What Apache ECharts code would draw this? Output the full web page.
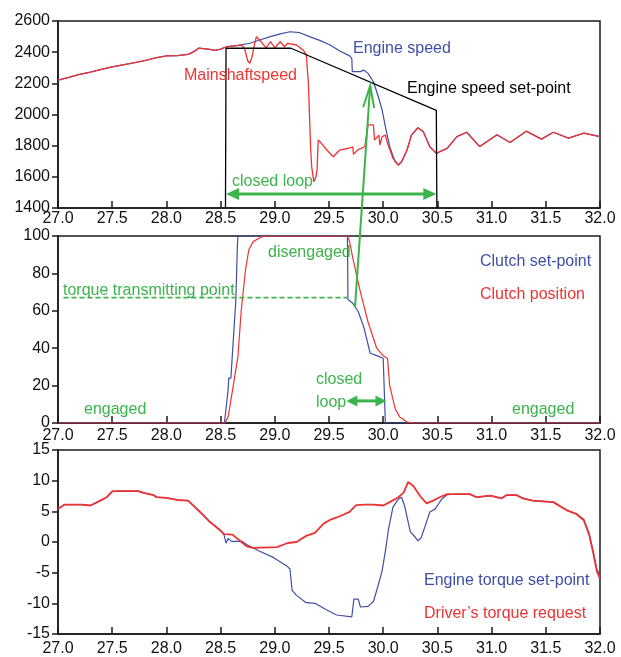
<!DOCTYPE html>
<html>
<head>
<meta charset="utf-8">
<script src="https://cdn.jsdelivr.net/npm/echarts@6/dist/echarts.min.js"></script>
<style>
html,body{margin:0;padding:0;background:#fff;}
#chart{width:621px;height:657px;}
</style>
</head>
<body>
<div id="chart"></div>
<script>
// ---------- data ----------
const xTicks = [27.0, 27.5, 28.0, 28.5, 29.0, 29.5, 30.0, 30.5, 31.0, 31.5, 32.0];
const speedTicks = [1400, 1600, 1800, 2000, 2200, 2400, 2600];
const clutchTicks = [0, 20, 40, 60, 80, 100];
const torqueTicks = [-15, -10, -5, 0, 5, 10, 15];

const engineSpeed = [[27.0,2220],[27.1,2238],[27.2,2258],[27.3,2272],[27.4,2290],[27.5,2306],[27.6,2318],[27.7,2332],[27.8,2346],[27.9,2364],[28.0,2376],[28.1,2378],[28.2,2386],[28.25,2402],[28.3,2426],[28.4,2418],[28.45,2412],[28.5,2420],[28.56,2436],[28.65,2442],[28.77,2457],[28.86,2478],[28.96,2500],[29.05,2517],[29.14,2531],[29.23,2525],[29.32,2500],[29.42,2474],[29.51,2446],[29.60,2408],[29.69,2376],[29.71,2362],[29.715,2275],[29.79,2275],[29.82,2285],[29.86,2264],[29.91,2210],[29.95,2125],[29.99,2029],[30.02,1922],[30.06,1793],[30.11,1697],[30.14,1676],[30.17,1697],[30.22,1772],[30.26,1868],[30.32,1915],[30.37,1890],[30.43,1793],[30.49,1751],[30.59,1783],[30.68,1858],[30.77,1886],[30.89,1794],[31.05,1870],[31.17,1820],[31.32,1893],[31.46,1842],[31.57,1886],[31.71,1848],[31.85,1880],[32.0,1858]];

const mainshaftSpeed = [[27.0,2220],[27.1,2238],[27.2,2258],[27.3,2272],[27.4,2290],[27.5,2306],[27.6,2318],[27.7,2332],[27.8,2346],[27.9,2364],[28.0,2376],[28.1,2378],[28.2,2386],[28.25,2402],[28.3,2426],[28.4,2418],[28.45,2412],[28.5,2420],[28.56,2436],[28.65,2442],[28.69,2446],[28.72,2425],[28.75,2345],[28.77,2329],[28.79,2370],[28.81,2440],[28.83,2500],[28.86,2478],[28.92,2427],[28.96,2467],[29.0,2428],[29.05,2467],[29.09,2435],[29.12,2457],[29.20,2446],[29.26,2414],[29.29,2385],[29.31,2202],[29.33,1793],[29.34,1665],[29.36,1569],[29.38,1600],[29.39,1644],[29.40,1836],[29.43,1815],[29.48,1772],[29.54,1729],[29.57,1751],[29.60,1772],[29.69,1785],[29.72,1793],[29.725,1745],[29.77,1775],[29.83,1793],[29.86,1933],[29.91,1933],[29.92,1836],[29.96,1868],[29.97,1804],[29.99,1858],[30.02,1868],[30.04,1815],[30.09,1719],[30.14,1676],[30.17,1697],[30.22,1772],[30.26,1868],[30.32,1915],[30.37,1890],[30.43,1793],[30.49,1751],[30.59,1783],[30.68,1858],[30.77,1886],[30.89,1794],[31.05,1870],[31.17,1820],[31.32,1893],[31.46,1842],[31.57,1886],[31.71,1848],[31.85,1880],[32.0,1858]];

const speedSetPoint = [[28.545,1400],[28.55,2425],[29.15,2425],[30.49,2027],[30.495,1400]];

const clutchSetPoint = [[27.0,0],[28.535,0],[28.57,18],[28.575,24],[28.595,24],[28.62,47],[28.64,65],[28.655,95],[28.66,100],[29.67,100],[29.675,66],[29.72,64],[29.77,59.5],[29.82,51.5],[29.88,37.3],[29.94,36],[30.0,34.6],[30.015,34],[30.02,0],[32.0,0]];

const clutchPosition = [[27.0,0],[28.54,0],[28.57,3.4],[28.61,17.6],[28.66,35.5],[28.69,60],[28.73,82],[28.76,92.5],[28.80,97],[28.88,99.6],[28.95,100],[29.67,100],[29.69,97],[29.72,88],[29.79,70],[29.86,54],[29.94,40],[30.0,36],[30.04,34.5],[30.06,20],[30.11,7.8],[30.15,3.4],[30.22,0.5],[30.3,0],[32.0,0]];

const engineTorque = [[27.0,5.4],[27.06,6.1],[27.22,6.1],[27.30,5.95],[27.39,6.75],[27.45,7.3],[27.50,8.25],[27.55,8.3],[27.74,8.3],[27.79,8.0],[27.88,7.66],[27.91,7.3],[28.0,7.2],[28.10,6.85],[28.20,6.75],[28.31,4.9],[28.40,3.3],[28.49,2.0],[28.53,1.3],[28.55,-0.2],[28.57,0.6],[28.6,0.1],[28.7,0.1],[28.74,-0.4],[28.86,-1.5],[28.99,-2.55],[29.11,-3.9],[29.14,-4.4],[29.16,-7.9],[29.2,-8.7],[29.29,-9.9],[29.37,-10.0],[29.48,-11.1],[29.57,-11.9],[29.71,-12.2],[29.72,-12.2],[29.73,-9.3],[29.77,-9.3],[29.79,-10.6],[29.86,-10.5],[29.91,-9.7],[29.95,-7.3],[29.99,-4.7],[30.02,-1.5],[30.05,2.2],[30.09,5.7],[30.14,7.0],[30.17,7.3],[30.20,5.7],[30.25,1.7],[30.29,0.9],[30.32,0.2],[30.35,0.7],[30.39,2.75],[30.43,4.9],[30.48,5.4],[30.51,6.2],[30.54,7.0],[30.59,7.7],[30.68,7.8],[30.80,7.8],[30.86,7.3],[30.99,7.55],[31.09,7.1],[31.14,7.65],[31.23,7.65],[31.29,7.1],[31.38,6.75],[31.57,6.5],[31.69,5.2],[31.78,4.6],[31.85,3.7],[31.90,1.4],[31.94,-1.8],[31.97,-4.4],[32.0,-5.5]];

const driverTorque = [[27.0,5.4],[27.06,6.1],[27.22,6.1],[27.30,5.95],[27.39,6.75],[27.45,7.3],[27.50,8.25],[27.55,8.3],[27.74,8.3],[27.79,8.0],[27.88,7.66],[27.91,7.3],[28.0,7.2],[28.10,6.85],[28.20,6.75],[28.31,4.9],[28.40,3.3],[28.49,2.0],[28.53,1.3],[28.61,1.2],[28.74,-0.7],[28.80,-0.96],[29.02,-0.85],[29.12,-0.16],[29.20,0.0],[29.29,1.0],[29.37,1.5],[29.45,3.0],[29.52,3.7],[29.60,4.2],[29.69,4.9],[29.75,6.0],[29.83,6.1],[29.91,6.1],[30.0,5.95],[30.06,6.5],[30.14,7.3],[30.19,8.1],[30.23,9.8],[30.28,9.1],[30.34,7.5],[30.40,6.3],[30.46,6.75],[30.52,7.3],[30.59,7.8],[30.68,7.8],[30.80,7.8],[30.86,7.3],[30.99,7.55],[31.09,7.1],[31.14,7.65],[31.23,7.65],[31.29,7.1],[31.38,6.75],[31.57,6.5],[31.69,5.2],[31.78,4.6],[31.85,3.55],[31.90,1.2],[31.94,-2.0],[31.97,-4.7],[32.0,-6.0]];

// ---------- style ----------
const BLUE = '#3f4fa6', RED = '#ee3333', GREEN = '#3cb44b', INK = '#1a1a1a';
const FONT = '"Liberation Sans", Arial, Helvetica, sans-serif';

const chart = echarts.init(document.getElementById('chart'), null, {renderer: 'canvas'});

const grids = [
  {left: 58, right: 21, top: 21, height: 187},
  {left: 58, right: 21, top: 236, height: 187},
  {left: 58, right: 21, top: 450, height: 188}
].map(g => Object.assign(g, {show: true, borderColor: INK, borderWidth: 1.5, backgroundColor: 'transparent'}));

function xAxisFor(i, margin) {
  return {
    type: 'value', gridIndex: i, min: xTicks[0], max: xTicks[xTicks.length - 1],
    interval: xTicks[1] - xTicks[0],
    axisLine: {show: true, onZero: false, lineStyle: {color: INK, width: 1.5}},
    axisTick: {show: true, inside: true, length: 7, lineStyle: {color: INK, width: 1.5}},
    axisLabel: {fontSize: 16, color: '#111', fontFamily: FONT, margin: margin, formatter: v => v.toFixed(1)},
    splitLine: {show: false}
  };
}
function yAxisFor(i, ticks) {
  return {
    type: 'value', gridIndex: i, min: ticks[0], max: ticks[ticks.length - 1],
    interval: ticks[1] - ticks[0],
    axisLine: {show: true, lineStyle: {color: INK, width: 1.5}},
    axisTick: {show: true, inside: false, length: 6, lineStyle: {color: INK, width: 1.5}},
    axisLabel: {fontSize: 16, color: '#111', fontFamily: FONT, margin: 8, formatter: v => String(v)},
    splitLine: {show: false}
  };
}
function line(data, color, width, gi, z) {
  return {
    type: 'line', data: data, xAxisIndex: gi, yAxisIndex: gi, symbol: 'none',
    lineStyle: {color: color, width: width}, z: z, animation: false, silent: true
  };
}

chart.setOption({
  animation: false,
  grid: grids,
  xAxis: [xAxisFor(0, 3), xAxisFor(1, 5), xAxisFor(2, 7)],
  yAxis: [yAxisFor(0, speedTicks), yAxisFor(1, clutchTicks), yAxisFor(2, torqueTicks)],
  series: [
    line(engineSpeed, BLUE, 1.2, 0, 2),
    line(mainshaftSpeed, RED, 1.3, 0, 3),
    line(speedSetPoint, '#000', 1.3, 0, 4),
    line(clutchSetPoint, BLUE, 1.2, 1, 2),
    line(clutchPosition, RED, 1.2, 1, 3),
    line(engineTorque, BLUE, 1.2, 2, 2),
    line(driverTorque, RED, 1.8, 2, 3)
  ]
});

// ---------- annotations ----------
const px = (gi, p) => chart.convertToPixel({xAxisIndex: gi, yAxisIndex: gi}, p);

function text(str, x, y, color) {
  return {type: 'text', left: x, top: y - 6, z: 20, silent: true,
    style: {text: str, fill: color, font: '16px ' + FONT}};
}
function head(tip, from, len, wid, filled, color, lw) {
  const dx = tip[0] - from[0], dy = tip[1] - from[1];
  const d = Math.hypot(dx, dy), ux = dx / d, uy = dy / d;
  const bx = tip[0] - ux * len, by = tip[1] - uy * len;
  const p1 = [bx - uy * wid / 2, by + ux * wid / 2], p2 = [bx + uy * wid / 2, by - ux * wid / 2];
  if (filled) return {type: 'polygon', z: 21, silent: true, shape: {points: [tip, p1, p2]}, style: {fill: color}};
  return {type: 'polyline', z: 21, silent: true, shape: {points: [p1, tip, p2]}, style: {stroke: color, lineWidth: lw, fill: null}};
}
function doubleArrow(a, b, color, lw, len, wid) {
  const ux = (b[0] - a[0]), uy = (b[1] - a[1]); const d = Math.hypot(ux, uy);
  const a2 = [a[0] + ux / d * (len - 1), a[1] + uy / d * (len - 1)], b2 = [b[0] - ux / d * (len - 1), b[1] - uy / d * (len - 1)];
  return [
    {type: 'line', z: 21, silent: true, shape: {x1: a2[0], y1: a2[1], x2: b2[0], y2: b2[1]}, style: {stroke: color, lineWidth: lw}},
    head(a, b, len, wid, true, color), head(b, a, len, wid, true, color)
  ];
}

const loopTop = {from: [28.55, 1490], to: [30.49, 1490]};
const loopMid = {from: [29.66, 11.8], to: [30.03, 11.8]};
const bigArrow = {from: [29.74, 62], to: [29.88, 2185]};
const ttp = {from: [27.05, 67], to: [29.67, 67]};

const g = [];
g.push(...doubleArrow(px(0, loopTop.from), px(0, loopTop.to), GREEN, 3, 13, 12));
g.push(...doubleArrow(px(1, loopMid.from), px(1, loopMid.to), GREEN, 3, 11, 11));
const bs = px(1, bigArrow.from), be = px(0, bigArrow.to);
g.push({type: 'line', z: 21, silent: true, shape: {x1: bs[0], y1: bs[1], x2: be[0], y2: be[1]}, style: {stroke: GREEN, lineWidth: 2}});
g.push(head(be, bs, 22, 11, false, GREEN, 2));
const t1 = px(1, ttp.from), t2 = px(1, ttp.to);
g.push({type: 'line', z: 21, silent: true, shape: {x1: t1[0], y1: t1[1], x2: t2[0], y2: t2[1]}, style: {stroke: GREEN, lineWidth: 1.8, lineDash: [5, 3]}});

g.push(text('Engine speed', 353, 47, BLUE));
g.push(text('Engine speed set-point', 407, 87, '#000'));
g.push(text('Mainshaftspeed', 184, 74, RED));
g.push(text('closed loop', 232, 180, GREEN));
g.push(text('disengaged', 268, 251, GREEN));
g.push(text('torque transmitting point', 63, 289, GREEN));
g.push(text('Clutch set-point', 480, 260, BLUE));
g.push(text('Clutch position', 480, 293, RED));
g.push(text('closed', 316, 378, GREEN));
g.push(text('loop', 316, 401, GREEN));
g.push(text('engaged', 84, 408, GREEN));
g.push(text('engaged', 512, 408, GREEN));
g.push(text('Engine torque set-point', 424, 579, BLUE));
g.push(text('Driver\u2019s torque request', 424, 612, RED));

chart.setOption({graphic: g});
</script>
</body>
</html>
